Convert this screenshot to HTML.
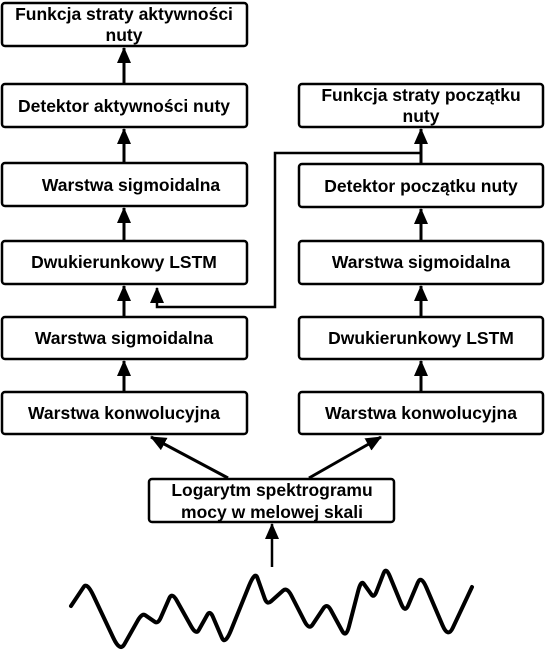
<!DOCTYPE html>
<html><head><meta charset="utf-8"><style>
html,body{margin:0;padding:0;background:#fff;}
svg{display:block;}
text{font-family:"Liberation Sans",Arial,sans-serif;font-weight:bold;font-size:17.5px;fill:#000;text-anchor:middle;}
</style></head><body>
<svg width="545" height="661" viewBox="0 0 545 661" xmlns="http://www.w3.org/2000/svg">
<defs>
<marker id="a" markerWidth="16" markerHeight="14" refX="15" refY="7" orient="auto" markerUnits="userSpaceOnUse">
<path d="M0,0 L16,7 L0,14 Z" fill="#000"/>
</marker>
</defs>
<g fill="none" stroke="#000" stroke-width="2.5">
<rect x="2" y="3" width="245" height="43" rx="3"/>
<rect x="2" y="84" width="245" height="43" rx="3"/>
<rect x="2" y="163" width="245" height="43" rx="3"/>
<rect x="2" y="241" width="245" height="43" rx="3"/>
<rect x="2" y="317" width="245" height="42" rx="3"/>
<rect x="2" y="392" width="245" height="42" rx="3"/>
<rect x="299" y="84" width="244" height="43" rx="3"/>
<rect x="299" y="164" width="244" height="43" rx="3"/>
<rect x="299" y="241" width="244" height="43" rx="3"/>
<rect x="299" y="317" width="244" height="42" rx="3"/>
<rect x="299" y="392" width="244" height="42" rx="3"/>
<rect x="149" y="479" width="245" height="43" rx="3"/>
</g>
<g stroke="#000" stroke-width="2.5" fill="none">
<line x1="124" y1="84" x2="124" y2="48" marker-end="url(#a)" stroke-width="3"/>
<line x1="124" y1="163" x2="124" y2="129" marker-end="url(#a)" stroke-width="3"/>
<line x1="124" y1="241" x2="124" y2="208" marker-end="url(#a)" stroke-width="3"/>
<line x1="124" y1="317" x2="124" y2="286" marker-end="url(#a)" stroke-width="3"/>
<line x1="124" y1="392" x2="124" y2="361" marker-end="url(#a)" stroke-width="3"/>
<line x1="421" y1="164" x2="421" y2="129" marker-end="url(#a)" stroke-width="3"/>
<line x1="421" y1="241" x2="421" y2="209" marker-end="url(#a)" stroke-width="3"/>
<line x1="421" y1="317" x2="421" y2="286" marker-end="url(#a)" stroke-width="3"/>
<line x1="421" y1="392" x2="421" y2="361" marker-end="url(#a)" stroke-width="3"/>
<polyline points="421,153 275,153 275,307 157,307 157,288" marker-end="url(#a)"/>
<line x1="228" y1="478" x2="151" y2="437" marker-end="url(#a)" stroke-width="3"/>
<line x1="309" y1="478" x2="381" y2="437" marker-end="url(#a)" stroke-width="3"/>
<line x1="272" y1="567" x2="272" y2="524" marker-end="url(#a)" stroke-width="2.5"/>
<path stroke-width="4" stroke-linejoin="round" stroke-linecap="round" d="M71,606 L83.8,586.8 Q87,582 93.6,596 L113.4,638 Q120,652 124.4,644.2 L137.6,620.8 Q142,613 145.2,615.2 L154.8,621.8 Q158,624 160.8,617.6 L169.2,598.4 Q172,592 176.8,600.6 L191.2,626.4 Q196,635 198.8,630 L207.2,615 Q210,610 213,617 L222,638 Q225,645 231,630.2 L249,585.8 Q255,571 257.4,577.8 L264.6,598.2 Q267,605 271,601.4 L283,590.6 Q287,587 291.4,595.6 L304.6,621.4 Q309,630 312.6,624.6 L323.4,608.4 Q327,603 330.8,610 L342.2,631 Q346,638 349,626.4 L358,591.6 Q361,580 363.6,583.6 L371.4,594.4 Q374,598 376.4,591.8 L383.6,573.2 Q386,567 389.8,576.2 L401.2,603.8 Q405,613 408.2,605.4 L417.8,582.6 Q421,575 426.4,587.6 L442.6,625.4 Q448,638 452.8,627.8 L472,587"/>
</g>
<text x="124" y="20">Funkcja straty aktywności</text>
<text x="124" y="41">nuty</text>
<text x="124" y="112">Detektor aktywności nuty</text>
<text x="131" y="191">Warstwa sigmoidalna</text>
<text x="124" y="268">Dwukierunkowy LSTM</text>
<text x="124" y="344">Warstwa sigmoidalna</text>
<text x="124" y="419">Warstwa konwolucyjna</text>
<text x="421" y="101">Funkcja straty początku</text>
<text x="421" y="122">nuty</text>
<text x="421" y="192">Detektor początku nuty</text>
<text x="421" y="268">Warstwa sigmoidalna</text>
<text x="421" y="344">Dwukierunkowy LSTM</text>
<text x="421" y="419">Warstwa konwolucyjna</text>
<text x="272" y="496">Logarytm spektrogramu</text>
<text x="272" y="518">mocy w melowej skali</text>
</svg>
</body></html>
